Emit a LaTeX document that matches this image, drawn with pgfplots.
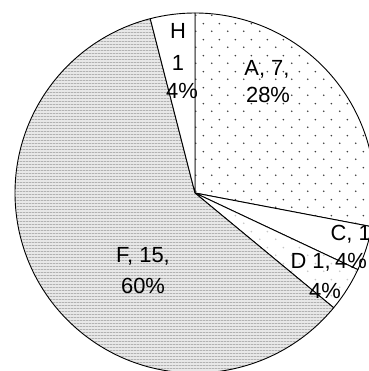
\documentclass[border=0pt]{standalone}
\usepackage{pgfplots}
\pgfplotsset{compat=1.18}
\usepackage{pgfplotstable}
\usetikzlibrary{patterns.meta}
\usepackage{fontspec}
\setmainfont{Liberation Sans}

\tikzdeclarepattern{
  name=sdots,
  type=uncolored,
  bounding box={(0bp,0bp) and (16bp,16bp)},
  tile size={(16bp,16bp)},
  code={
    \pgfpathcircle{\pgfpoint{4bp}{4bp}}{0.95bp}
    \pgfpathcircle{\pgfpoint{12bp}{12bp}}{0.95bp}
    \pgfusepath{fill}
  }
}
\tikzdeclarepattern{
  name=hlines3,
  type=uncolored,
  bounding box={(0bp,0bp) and (3bp,3bp)},
  tile size={(3bp,3bp)},
  code={
    \pgfpathrectangle{\pgfpoint{0bp}{0bp}}{\pgfpoint{3bp}{1bp}}
    \pgfusepath{fill}
  }
}

\pgfplotstableread{
label v
A 7
C 1
D 1
F 15
H 1
}\pietable

\tikzset{
  pieA/.style={preaction={fill=white}, pattern=sdots, pattern color=black!75},
  pieC/.style={fill=white},
  pieD/.style={preaction={fill=white}, pattern=sdots, pattern color=black!22},
  pieF/.style={preaction={fill=black!9}, pattern=hlines3, pattern color=black!30},
  pieH/.style={fill=white},
}
\newcommand{\lbl}{\fontsize{22}{29}\selectfont}

\begin{document}
\begin{tikzpicture}
\begin{axis}[
  name=ax, at={(0,0)}, anchor=south west,
  x=1bp, y=1bp, xmin=0, xmax=369, ymin=0, ymax=371,
  hide axis, clip=true,
]
\pgfplotsextra{%
  \pgfplotstablegetrowsof{\pietable}%
  \pgfmathtruncatemacro\nlast{\pgfplotsretval-1}%
  \gdef\tot{0}%
  \foreach \i in {0,...,\nlast}{%
    \pgfplotstablegetelem{\i}{v}\of\pietable
    \pgfmathsetmacro\t{\tot+\pgfplotsretval}\xdef\tot{\t}%
  }%
  \gdef\cum{0}%
  \foreach \i in {0,...,\nlast}{%
    \pgfplotstablegetelem{\i}{v}\of\pietable \let\val\pgfplotsretval
    \pgfplotstablegetelem{\i}{label}\of\pietable \let\sty\pgfplotsretval
    \pgfmathsetmacro\aS{90-360*\cum/\tot}%
    \pgfmathsetmacro\aE{90-360*(\cum+\val)/\tot}%
    \draw[pie\sty, line width=0.9bp, line join=round]
      (axis cs:195,178) -- ++(\aS:180bp)
      arc[start angle=\aS, end angle=\aE, radius=180bp] -- cycle;
    \pgfmathsetmacro\c{\cum+\val}\xdef\cum{\c}%
  }%
}
% labels
\node[anchor=base, font=\lbl] at (axis cs:178,333) {H};
\node[anchor=base, font=\lbl] at (axis cs:178,301) {1};
\node[anchor=base, font=\lbl] at (axis cs:182,273) {4\%};
\node[anchor=base, font=\lbl] at (axis cs:267,296) {A, 7,};
\node[anchor=base, font=\lbl] at (axis cs:268,269) {28\%};
\node[anchor=base west, font=\lbl] at (axis cs:327,131) {C, 1,};
\node[anchor=base, font=\lbl] at (axis cs:351,103) {4\%};
\node[anchor=base west, font=\lbl] at (axis cs:287,103) {D 1,};
\node[anchor=base, font=\lbl] at (axis cs:325,73) {4\%};
\node[anchor=base, font=\lbl] at (axis cs:143,109) {F, 15,};
\node[anchor=base, font=\lbl] at (axis cs:143,78) {60\%};
\end{axis}
\pgfresetboundingbox
\path (ax.south west) rectangle (ax.north east);
\end{tikzpicture}
\end{document}
